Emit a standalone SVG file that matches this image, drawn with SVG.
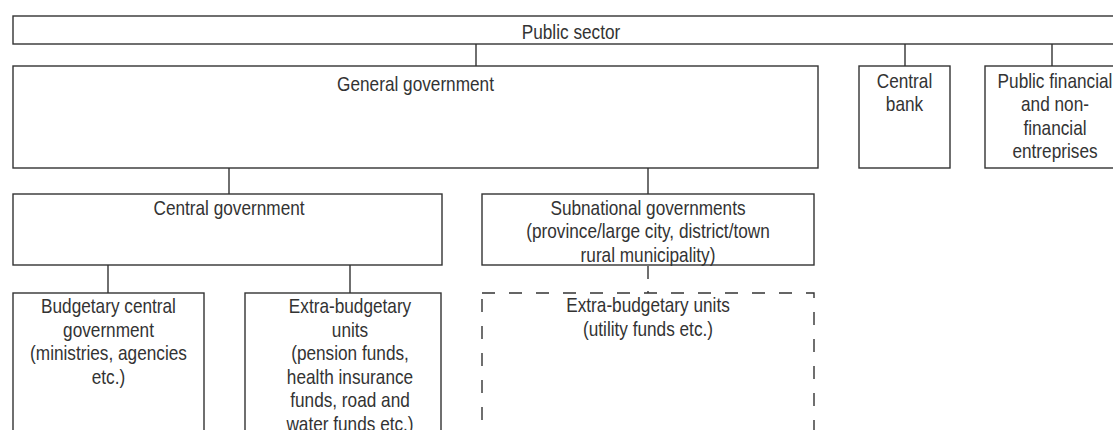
<svg xmlns="http://www.w3.org/2000/svg" width="1113" height="430" viewBox="0 0 1113 430">
<style>
.box{fill:#fff;stroke:#333;stroke-width:1.4}
.dbox{fill:none;stroke:#333;stroke-width:1.4;stroke-dasharray:13 14}
.ln{fill:none;stroke:#333;stroke-width:1.4}
.dl{fill:none;stroke:#333;stroke-width:1.4;stroke-dasharray:13 12}
text{font-family:"Liberation Sans",Arial,sans-serif;font-size:21px;fill:#333;text-anchor:middle}
</style>
<rect width="1113" height="430" fill="#fff"/>
<g id="connectors">
<line class="ln" x1="476" y1="44" x2="476" y2="66"/>
<line class="ln" x1="905" y1="44" x2="905" y2="66"/>
<line class="ln" x1="1052" y1="44" x2="1052" y2="66"/>
<line class="ln" x1="229" y1="168" x2="229" y2="194"/>
<line class="ln" x1="648" y1="168" x2="648" y2="194"/>
<line class="ln" x1="108" y1="265" x2="108" y2="293"/>
<line class="ln" x1="350" y1="265" x2="350" y2="293"/>
<line class="dl" x1="648" y1="266" x2="648" y2="293"/>
</g>
<g id="public-sector">
<rect class="box" x="13" y="16" width="1120" height="28"/>
<g transform="translate(571 0) scale(0.82 1)"><text x="0" y="39">Public sector</text></g>
</g>
<g id="general-government">
<rect class="box" x="13" y="66" width="805" height="102"/>
<g transform="translate(415.5 0) scale(0.82 1)"><text x="0" y="91">General government</text></g>
</g>
<g id="central-bank">
<rect class="box" x="859" y="66" width="91" height="102"/>
<g transform="translate(904.5 0) scale(0.82 1)">
<text x="0" y="88">Central</text>
<text x="0" y="111.5">bank</text>
</g>
</g>
<g id="public-enterprises">
<rect class="box" x="985" y="66" width="141" height="102"/>
<g transform="translate(1055 0) scale(0.82 1)">
<text x="0" y="88">Public financial</text>
<text x="0" y="111.5">and non-</text>
<text x="0" y="135">financial</text>
<text x="0" y="158.5">entreprises</text>
</g>
</g>
<g id="central-government">
<rect class="box" x="13" y="194" width="429" height="71"/>
<g transform="translate(229 0) scale(0.82 1)"><text x="0" y="215.5">Central government</text></g>
</g>
<g id="subnational-governments">
<rect class="box" x="482" y="194" width="332" height="71"/>
<g transform="translate(648 0) scale(0.82 1)">
<text x="0" y="215">Subnational governments</text>
<text x="0" y="238.5">(province/large city, district/town</text>
<text x="0" y="262">rural municipality)</text>
</g>
</g>
<g id="budgetary-central-government">
<rect class="box" x="13" y="293" width="191" height="150"/>
<g transform="translate(108.5 0) scale(0.82 1)">
<text x="0" y="313.5">Budgetary central</text>
<text x="0" y="337">government</text>
<text x="0" y="360.5">(ministries, agencies</text>
<text x="0" y="384">etc.)</text>
</g>
</g>
<g id="extra-budgetary-central">
<rect class="box" x="245" y="293" width="196" height="150"/>
<g transform="translate(350 0) scale(0.82 1)">
<text x="0" y="313.5">Extra-budgetary</text>
<text x="0" y="337">units</text>
<text x="0" y="360.5">(pension funds,</text>
<text x="0" y="384">health insurance</text>
<text x="0" y="407.5">funds, road and</text>
<text x="0" y="431">water funds etc.)</text>
</g>
</g>
<g id="extra-budgetary-subnational">
<rect class="dbox" x="482" y="293" width="332" height="150"/>
<g transform="translate(648 0) scale(0.82 1)">
<text x="0" y="312.5">Extra-budgetary units</text>
<text x="0" y="336">(utility funds etc.)</text>
</g>
</g>
</svg>
